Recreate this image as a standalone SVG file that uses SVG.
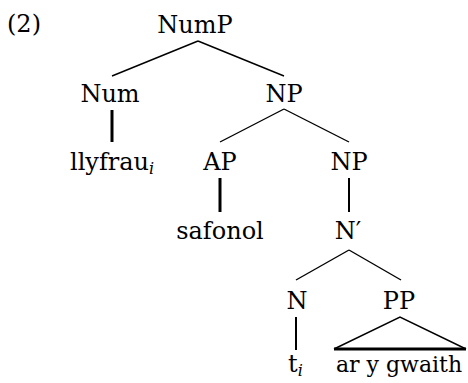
<svg xmlns="http://www.w3.org/2000/svg" width="468" height="383" viewBox="0 0 468 383">
  <style>
    text { font-family: "DejaVu Serif", "Liberation Serif", serif; font-size: 24px; fill: #000; }
    .c { text-anchor: middle; }
    .sub { font-size: 16px; font-style: italic; }
    .edge { stroke: #000; stroke-width: 1.4; fill: none; stroke-linecap: butt; }
    .thick { stroke: #000; stroke-width: 3; fill: none; }
  </style>
  <rect width="468" height="383" fill="#fff"/>

  <text id="label" x="7" y="32">(2)</text>

  <g id="edges">
    <line class="edge" x1="198" y1="41" x2="112" y2="76"/>
    <line class="edge" x1="198" y1="41" x2="284" y2="76"/>
    <line class="thick" x1="112" y1="110" x2="112" y2="142"/>
    <line class="edge" x1="284" y1="109" x2="220" y2="142"/>
    <line class="edge" x1="284" y1="109" x2="349" y2="142"/>
    <line class="thick" x1="220" y1="178" x2="220" y2="212"/>
    <line class="edge" x1="349" y1="178" x2="349" y2="212" style="stroke-width:2"/>
    <line class="edge" x1="349" y1="250" x2="296" y2="280"/>
    <line class="edge" x1="349" y1="250" x2="401" y2="280"/>
    <line class="edge" x1="296" y1="317" x2="296" y2="350" style="stroke-width:2"/>
    <!-- roof over the PP -->
    <polyline class="edge" points="334,349 400,317 466,349"/>
    <line class="thick" x1="334" y1="349" x2="466" y2="349"/>
  </g>

  <g id="n-NumP"><text class="c" x="195" y="33">NumP</text></g>
  <g id="n-Num"><text class="c" x="110" y="102">Num</text></g>
  <g id="n-NP1"><text class="c" x="284" y="102">NP</text></g>
  <g id="n-llyfrau"><text x="70" y="170">llyfrau<tspan class="sub" dy="4">i</tspan></text></g>
  <g id="n-AP"><text class="c" x="220" y="170">AP</text></g>
  <g id="n-NP2"><text class="c" x="349" y="170">NP</text></g>
  <g id="n-safonol"><text class="c" x="220" y="239">safonol</text></g>
  <g id="n-Nbar"><text class="c" x="348" y="239">N′</text></g>
  <g id="n-N"><text class="c" x="297" y="309">N</text></g>
  <g id="n-PP"><text class="c" x="399" y="309">PP</text></g>
  <g id="n-t"><text x="288" y="372">t<tspan class="sub" dy="4">i</tspan></text></g>
  <g id="n-ar"><text class="c" x="399" y="372" style="font-size:22px">ar y gwaith</text></g>
</svg>
